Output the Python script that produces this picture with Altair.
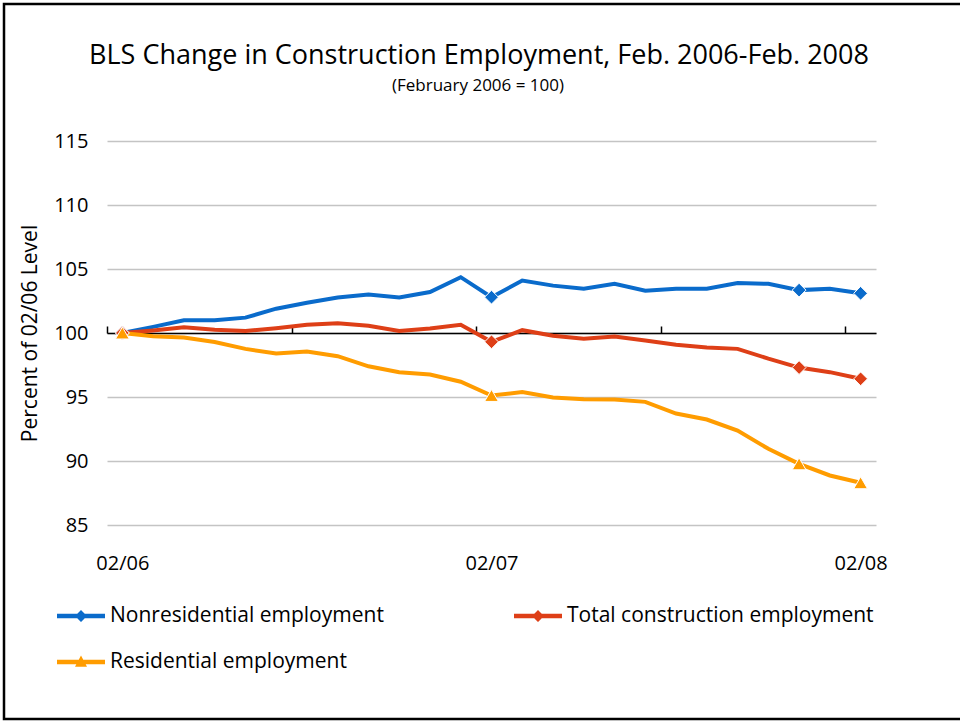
import json
import altair as alt
import pandas as pd

# ---------------- data ----------------
months = ["02/06", "03/06", "04/06", "05/06", "06/06", "07/06", "08/06", "09/06",
          "10/06", "11/06", "12/06", "01/07", "02/07", "03/07", "04/07", "05/07",
          "06/07", "07/07", "08/07", "09/07", "10/07", "11/07", "12/07", "01/08", "02/08"]

nonresidential = [100, 100.48, 101.0, 101.0, 101.2, 101.9, 102.36, 102.77, 103.0, 102.77,
                  103.2, 104.36, 102.8, 104.1, 103.7, 103.45, 103.84, 103.3, 103.45, 103.45,
                  103.9, 103.84, 103.35, 103.45, 103.1]
total = [100, 100.2, 100.45, 100.25, 100.15, 100.38, 100.64, 100.77, 100.56, 100.15,
         100.35, 100.64, 99.31, 100.22, 99.78, 99.55, 99.73, 99.41, 99.08, 98.87,
         98.76, 98.0, 97.3, 96.94, 96.42]
residential = [100, 99.75, 99.65, 99.3, 98.76, 98.4, 98.55, 98.19, 97.4, 96.94,
               96.76, 96.19, 95.12, 95.38, 94.96, 94.83, 94.8, 94.62, 93.71, 93.24,
               92.38, 90.95, 89.78, 88.87, 88.3]

series_names = ["Nonresidential employment", "Total construction employment", "Residential employment"]
series_colors = ["#0A6BCB", "#DE3F17", "#FF9C00"]
marker_months = ["02/06", "02/07", "12/07", "02/08"]
x_label_months = ["02/06", "02/07", "02/08"]
x_tick_boundaries = [-0.5, 5.5, 11.5, 17.5, 23.5]
y_ticks = [85, 90, 95, 100, 105, 110, 115]

title_text = "BLS Change in Construction Employment, Feb. 2006-Feb. 2008"
subtitle_text = "(February 2006 = 100)"
y_title = "Percent of 02/06 Level"

rows = []
for name, vals in zip(series_names, [nonresidential, total, residential]):
    for i, (m, v) in enumerate(zip(months, vals)):
        rows.append({"idx": i, "month": m, "series": name, "value": v,
                     "marker": m in marker_months})
df = pd.DataFrame(rows)

# ---------------- layout ----------------
FONT = "Open Sans"
W, H = 769, 384
PAD_L, PAD_T = 107, 141
Y_MIN, Y_MAX = 85, 115
base_offset = -(100 - Y_MIN) / (Y_MAX - Y_MIN) * H

label_expr = json.dumps(months) + "[datum.value]"

x_scale = alt.Scale(domain=[-0.5, len(months) - 0.5], nice=False, zero=False)
y_scale = alt.Scale(domain=[Y_MIN, Y_MAX], nice=False, zero=False)
color_scale = alt.Scale(domain=series_names, range=series_colors)

diamond_path = "M-1,-0.09H1V0.09H-1Z M0,-0.25L0.25,0L0,0.25L-0.25,0Z"
triangle_path = "M-1,-0.09H1V0.09H-1Z M0,-0.27L0.25,0.2L-0.25,0.2Z"

legend_props = dict(
    orient="none", legendX=57 - PAD_L, legendY=592 - PAD_T,
    direction="horizontal", columns=2, title=None,
    symbolSize=48 * 48, symbolStrokeWidth=0, symbolOpacity=1,
    labelFontSize=21, labelFont=FONT, labelColor="black",
    labelOffset=5, labelLimit=0, columnPadding=130, rowPadding=12, padding=0,
)
color_enc = alt.Color("series:N", scale=color_scale, legend=alt.Legend(**legend_props))

# invisible layer that carries the legend (line + marker symbols)
legend_layer = alt.Chart(df).transform_filter("datum.idx === 0").mark_point(
    filled=True, opacity=0, size=1
).encode(
    x=alt.X("idx:Q", scale=x_scale, axis=None),
    y=alt.Y("value:Q", scale=y_scale),
    color=color_enc,
    shape=alt.Shape("series:N", scale=alt.Scale(domain=series_names,
                                                range=[diamond_path, diamond_path, triangle_path]),
                    legend=alt.Legend(**legend_props)),
)

y_enc = alt.Y("value:Q", scale=y_scale,
              axis=alt.Axis(values=y_ticks, title=y_title,
                            domain=False, ticks=False, grid=True,
                            gridColor="#C4C4C4", gridWidth=1.5,
                            labelFontSize=20, labelPadding=19, labelColor="black",
                            labelFont=FONT, titleFont=FONT, titleFontSize=21,
                            titleFontWeight="normal", titleColor="black", titlePadding=13))

lines = alt.Chart(df).mark_line(strokeWidth=4).encode(
    x=alt.X("idx:Q", scale=x_scale,
            axis=alt.Axis(values=[months.index(m) for m in x_label_months],
                          labelExpr=label_expr, domain=False, ticks=False, grid=False,
                          labelFontSize=20, labelPadding=28, labelColor="black",
                          labelFont=FONT, title=None)),
    y=y_enc,
    color=color_enc,
    detail="series:N",
)

diamonds = alt.Chart(df).transform_filter(
    "datum.marker && datum.series !== 'Residential employment'"
).mark_point(filled=True, opacity=1, size=190, shape="diamond", stroke="white", strokeWidth=1).encode(
    x=alt.X("idx:Q", scale=x_scale,
            axis=alt.Axis(values=x_tick_boundaries, labels=False, grid=False,
                          domain=True, domainColor="black", domainWidth=1.5,
                          ticks=True, tickColor="black", tickWidth=1.5, tickSize=7,
                          offset=base_offset, title=None)),
    y=alt.Y("value:Q", scale=y_scale),
    color=color_enc,
)

triangles = alt.Chart(df).transform_filter(
    "datum.marker && datum.series === 'Residential employment'"
).mark_point(filled=True, opacity=1, size=190, shape="triangle-up", stroke="white", strokeWidth=1).encode(
    x=alt.X("idx:Q", scale=x_scale, axis=None),
    y=alt.Y("value:Q", scale=y_scale),
    color=color_enc,
)

one_row = pd.DataFrame({"f": [0]})

frame = alt.Chart(one_row).mark_rect(
    fillOpacity=0, stroke="black", strokeWidth=2.5
).encode(
    x=alt.value(4 - PAD_L), x2=alt.value(975 - PAD_L),
    y=alt.value(4 - PAD_T), y2=alt.value(719 - PAD_T),
)

title_mark = alt.Chart(one_row).mark_text(
    font=FONT, fontSize=27, color="black", align="center", baseline="alphabetic"
).encode(x=alt.value(479 - PAD_L), y=alt.value(64 - PAD_T), text=alt.value(title_text))

subtitle_mark = alt.Chart(one_row).mark_text(
    font=FONT, fontSize=17, color="black", align="center", baseline="alphabetic"
).encode(x=alt.value(478 - PAD_L), y=alt.value(91 - PAD_T), text=alt.value(subtitle_text))

chart = alt.layer(frame, legend_layer, lines, diamonds, triangles,
                  title_mark, subtitle_mark).resolve_axis(
    x="independent"
).properties(
    width=W, height=H,
    autosize=alt.AutoSizeParams(type="none"),
    padding={"left": PAD_L, "top": PAD_T, "right": 960 - PAD_L - W, "bottom": 721 - PAD_T - H},
    background="white",
).configure_view(stroke=None)

chart.save("out.html", embed_options={"renderer": "svg", "actions": False})
